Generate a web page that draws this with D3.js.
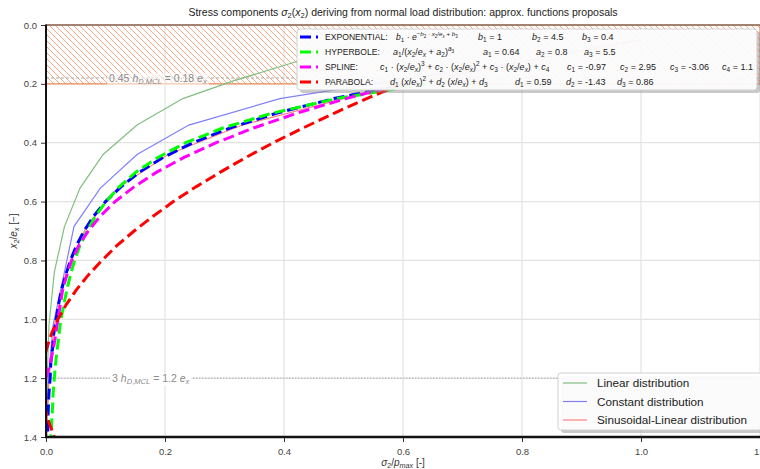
<!DOCTYPE html>
<html>
<head>
<meta charset="utf-8">
<script src="https://cdn.jsdelivr.net/npm/d3@7"></script>
<style>
  body { margin: 0; background: #fff; }
  svg { font-family: "Liberation Sans", Arial, sans-serif; }
  text { white-space: pre; }
</style>
</head>
<body>
<div id="chart"></div>
<script>
// depth x2/ex where the approximating functions are drawn
const depth = [0.2, 0.25, 0.3, 0.35, 0.4, 0.45, 0.5, 0.55, 0.6, 0.65, 0.7, 0.75, 0.8,
               0.85, 0.9, 0.95, 1.0, 1.05, 1.1, 1.15, 1.2, 1.25, 1.3, 1.35, 1.4];
const exponential = [0.607, 0.484, 0.387, 0.309, 0.247, 0.197, 0.157, 0.126, 0.100, 0.080, 0.064, 0.051, 0.041,
                     0.033, 0.026, 0.021, 0.017, 0.013, 0.011, 0.008, 0.007, 0.005, 0.004, 0.003, 0.003];
const hyperbole = [0.640, 0.489, 0.379, 0.297, 0.235, 0.188, 0.151, 0.123, 0.101, 0.083, 0.069, 0.057, 0.048,
                   0.041, 0.035, 0.030, 0.025, 0.022, 0.019, 0.016, 0.014, 0.012, 0.011, 0.0095, 0.0084];
const spline = [0.598, 0.504, 0.421, 0.349, 0.286, 0.232, 0.186, 0.148, 0.116, 0.091, 0.071, 0.055, 0.043,
                0.035, 0.028, 0.024, 0.020, 0.0165, 0.0124, 0.0071, -0.0002, -0.010, -0.024, -0.041, -0.064];
const parabola = [0.598, 0.539, 0.484, 0.432, 0.382, 0.336, 0.293, 0.252, 0.214, 0.180, 0.148, 0.119, 0.094,
                  0.071, 0.051, 0.034, 0.020, 0.009, 0.001, -0.004, -0.006, -0.006, -0.002, 0.005, 0.014];

// load distributions (thin lines)
const distDepth = [0.05, 0.125, 0.19, 0.25, 0.34, 0.44, 0.555, 0.685, 0.84, 1.02, 1.2, 1.4];
const linearDist = [0.53, 0.42, 0.315, 0.23, 0.153, 0.096, 0.057, 0.031, 0.014, 0.005, 0.002, 0.001];
const constantDist = [1.0, 0.8, 0.58, 0.393, 0.24, 0.153, 0.091, 0.047, 0.031, 0.012, 0.004, 0.001];
const sinusLinearDist = [1.0, 0.8, 0.64, 0.50, 0.33, 0.205, 0.12, 0.068, 0.034, 0.014, 0.005, 0.001];

const xTicks = [0, 0.2, 0.4, 0.6, 0.8, 1.0, 1.2];
const yTicks = [0, 0.2, 0.4, 0.6, 0.8, 1.0, 1.2, 1.4];

const fitNames = ["EXPONENTIAL:", "HYPERBOLE:", "SPLINE:", "PARABOLA:"];
const fitFormulas = [
  "$b_1 · e^{−b_2 · x_2/e_x + b_3}$",
  "$a_1/(x_2/e_x + a_2)^{a_3}$",
  "$c_1 · (x_2/e_x)^3 + c_2 · (x_2/e_x)^2 + c_3 · (x_2/e_x) + c_4$",
  "$d_1 (x/e_x)^2 + d_2 (x/e_x) + d_3$"
];
const fitParams = [
  [["b_1", "1"], ["b_2", "4.5"], ["b_3", "0.4"]],
  [["a_1", "0.64"], ["a_2", "0.8"], ["a_3", "5.5"]],
  [["c_1", "-0.97"], ["c_2", "2.95"], ["c_3", "-3.06"], ["c_4", "1.1"]],
  [["d_1", "0.59"], ["d_2", "-1.43"], ["d_3", "0.86"]]
];
const distNames = ["Linear distribution", "Constant distribution", "Sinusoidal-Linear distribution"];

// reference levels
const hatchTop = 0, hatchBottom = 0.2;
const refLevels = [0.18, 1.2];
const refLabels = ["$0.45 h_{D,MCL} = 0.18 e_x$", "$3 h_{D,MCL} = 1.2 e_x$"];
const refLabelX = [0.188, 0.176];

const width = 760, height = 469;
const x = d3.scaleLinear().domain([0, 1.2]).range([46, 760]);
const y = d3.scaleLinear().domain([0, 1.4]).range([25, 437]);

const svg = d3.select("#chart").append("svg")
  .attr("width", width).attr("height", height)
  .attr("viewBox", [0, 0, width, height]);

// tiny mathtext: _ sub, ^ sup, letters italic
function mathRuns(s, off, sc, out) {
  let i = 0;
  while (i < s.length) {
    const c = s[i];
    if (c === "_" || c === "^") {
      i++;
      let g;
      if (s[i] === "{") {
        let d = 1, j = i + 1;
        while (d) { if (s[j] === "{") d++; else if (s[j] === "}") d--; j++; }
        g = s.slice(i + 1, j - 1); i = j;
      } else { g = s[i]; i++; }
      mathRuns(g, off + (c === "_" ? 0.22 : -0.42) * sc, sc * 0.72, out);
    } else {
      out.push({t: c, off, sc, it: /[A-Za-zσ]/.test(c)});
      i++;
    }
  }
  return out;
}
function rich(sel, str, size) {
  let cur = 0;
  str.split("$").forEach((p, k) => {
    const runs = k % 2 ? mathRuns(p, 0, 1, []) : [{t: p, off: 0, sc: 1, it: false}];
    runs.forEach(r => {
      if (!r.t) return;
      sel.append("tspan")
        .attr("font-size", size * r.sc)
        .attr("font-style", r.it ? "italic" : "normal")
        .attr("dy", (r.off - cur) * size)
        .text(r.t);
      cur = r.off;
    });
  });
  return sel;
}

const defs = svg.append("defs");
defs.append("clipPath").attr("id", "plot")
  .append("rect").attr("x", x(0)).attr("y", y(0))
  .attr("width", x(1.2) - x(0)).attr("height", y(1.4) - y(0));
const pat = defs.append("pattern").attr("id", "hatch")
  .attr("patternUnits", "userSpaceOnUse").attr("width", 6).attr("height", 6);
pat.append("path").attr("d", "M-1,-1L7,7M-1,5L1,7M5,-1L7,1")
  .attr("stroke", "#f5875a").attr("stroke-width", 0.9).attr("opacity", 0.8);

// grid
svg.append("g").selectAll("line").data(xTicks).join("line")
  .attr("x1", d => x(d)).attr("x2", d => x(d)).attr("y1", y(0)).attr("y2", y(1.4))
  .attr("stroke", "#e3e3e3").attr("stroke-width", 1.2);
svg.append("g").selectAll("line").data(yTicks).join("line")
  .attr("x1", x(0)).attr("x2", x(1.2)).attr("y1", d => y(d)).attr("y2", d => y(d))
  .attr("stroke", "#e3e3e3").attr("stroke-width", 1.2);

// hatched top layer
svg.append("rect")
  .attr("x", x(0)).attr("y", y(hatchTop))
  .attr("width", x(1.2) - x(0)).attr("height", y(hatchBottom) - y(hatchTop))
  .attr("fill", "url(#hatch)").attr("stroke", "#f28a55").attr("stroke-width", 1.2);

// reference lines with inline labels
const plot = svg.append("g").attr("clip-path", "url(#plot)");
refLevels.forEach((lv, i) => {
  plot.append("line")
    .attr("x1", x(0)).attr("x2", x(1.2)).attr("y1", y(lv)).attr("y2", y(lv))
    .attr("stroke", "#aaa").attr("stroke-width", 1)
    .attr("stroke-dasharray", i === 0 ? "3,2" : "1.5,1.5");
  const t = plot.append("text")
    .attr("x", x(refLabelX[i])).attr("y", y(lv) + 4)
    .attr("text-anchor", "middle").attr("fill", "#8c8c8c");
  rich(t, refLabels[i], 10.5);
  const bb = t.node().getBBox();
  plot.insert("rect", () => t.node())
    .attr("x", bb.x - 2).attr("y", bb.y + 1).attr("width", bb.width + 4).attr("height", bb.height - 2)
    .attr("fill", "#fff").attr("opacity", i === 0 ? 0.55 : 1);
});

// thin distribution lines
const thinColors = ["#80bf80", "#8080ff", "#ff8080"];
[linearDist, constantDist, sinusLinearDist].forEach((vals, i) => {
  plot.append("path")
    .datum(distDepth.map((d, k) => [vals[k], d]))
    .attr("fill", "none").attr("stroke", thinColors[i]).attr("stroke-width", 1.2)
    .attr("d", d3.line().x(d => x(d[0])).y(d => y(d[1])));
});

// approximating functions
const fitColors = ["#0000ff", "#00ff00", "#ff00ff", "#ff0000"];
[exponential, hyperbole, spline, parabola].forEach((vals, i) => {
  plot.append("path")
    .datum(depth.map((d, k) => [vals[k], d]))
    .attr("fill", "none").attr("stroke", fitColors[i]).attr("stroke-width", 3)
    .attr("stroke-dasharray", "11,5")
    .attr("d", d3.line().x(d => x(d[0])).y(d => y(d[1])));
});

// axes
const fmt = d3.format(".1f");
const ax = svg.append("g").attr("transform", `translate(0,${y(1.4)})`)
  .call(d3.axisBottom(x).tickValues(xTicks).tickFormat(fmt).tickSize(5).tickSizeOuter(0));
const ay = svg.append("g").attr("transform", `translate(${x(0)},0)`)
  .call(d3.axisLeft(y).tickValues(yTicks).tickFormat(fmt).tickSize(5).tickSizeOuter(0));
[ax, ay].forEach(a => {
  a.select(".domain").remove();
  a.selectAll("line").attr("stroke", "#333");
  a.selectAll("text").attr("font-size", 9.5).attr("fill", "#444")
    .attr("font-family", "Liberation Sans, Arial, sans-serif");
});
ax.selectAll("text").attr("dy", "1.05em");
ay.selectAll("text").attr("dx", "-0.1em");

svg.append("line").attr("x1", x(0)).attr("x2", x(1.2)).attr("y1", y(0)).attr("y2", y(0))
  .attr("stroke", "#555").attr("stroke-width", 1);
svg.append("line").attr("x1", x(0)).attr("x2", x(0)).attr("y1", y(0) - 0.5).attr("y2", y(1.4) + 1)
  .attr("stroke", "#111").attr("stroke-width", 2);
svg.append("line").attr("x1", x(0) - 1).attr("x2", x(1.2)).attr("y1", y(1.4)).attr("y2", y(1.4))
  .attr("stroke", "#111").attr("stroke-width", 2.5);

// title and labels
rich(svg.append("text").attr("x", 403).attr("y", 16).attr("text-anchor", "middle").attr("fill", "#222"),
  "Stress components $σ_2(x_2)$ deriving from normal load distribution: approx. functions proposals", 10.5);
rich(svg.append("text").attr("x", 403).attr("y", 466).attr("text-anchor", "middle").attr("fill", "#333"),
  "$σ_2/p_{max}$ [-]", 10);
rich(svg.append("text").attr("transform", "translate(17,231) rotate(-90)").attr("text-anchor", "middle").attr("fill", "#333"),
  "$x_2/e_x$ [−]", 10);

// legend helper
function legendBox(x0, y0, w, h) {
  const g = svg.append("g");
  g.append("rect").attr("x", x0 + 3).attr("y", y0 + 3).attr("width", w).attr("height", h)
    .attr("rx", 3).attr("fill", "#888").attr("opacity", 0.45);
  g.append("rect").attr("x", x0).attr("y", y0).attr("width", w).attr("height", h)
    .attr("rx", 3).attr("fill", "#fff").attr("fill-opacity", 0.92).attr("stroke", "#d0d0d0");
  return g;
}

// fit legend
const fitRowY = [37, 52, 67, 82];
const paramX = [[478, 532, 582], [483, 536, 584], [567, 620, 670, 722], [515, 566, 617]];
const formulaX = [396, 393, 380, 390];
const lg = legendBox(297, 29, 460, 61);
fitNames.forEach((nm, i) => {
  lg.append("line").attr("x1", 300).attr("x2", 318).attr("y1", fitRowY[i]).attr("y2", fitRowY[i])
    .attr("stroke", fitColors[i]).attr("stroke-width", 3).attr("stroke-dasharray", "11,5");
  const fs = 9;
  lg.append("text").attr("x", 325).attr("y", fitRowY[i] + 3).attr("font-size", 8.6).attr("fill", "#222").text(nm);
  rich(lg.append("text").attr("x", formulaX[i]).attr("y", fitRowY[i] + 3).attr("fill", "#222"),
    fitFormulas[i], i === 0 ? 8.6 : fs);
  fitParams[i].forEach((p, k) => {
    rich(lg.append("text").attr("x", paramX[i][k]).attr("y", fitRowY[i] + 3).attr("fill", "#222"),
      `$${p[0]} = $${p[1]}`, fs);
  });
});

// distribution legend
const distRowY = [383, 401.5, 420];
const dl = legendBox(558, 373, 215, 57);
distNames.forEach((nm, i) => {
  dl.append("line").attr("x1", 563).attr("x2", 587).attr("y1", distRowY[i]).attr("y2", distRowY[i])
    .attr("stroke", thinColors[i]).attr("stroke-width", 1.2);
  dl.append("text").attr("x", 597).attr("y", distRowY[i] + 4).attr("font-size", 11.7).attr("fill", "#222").text(nm);
});
</script>
</body>
</html>
